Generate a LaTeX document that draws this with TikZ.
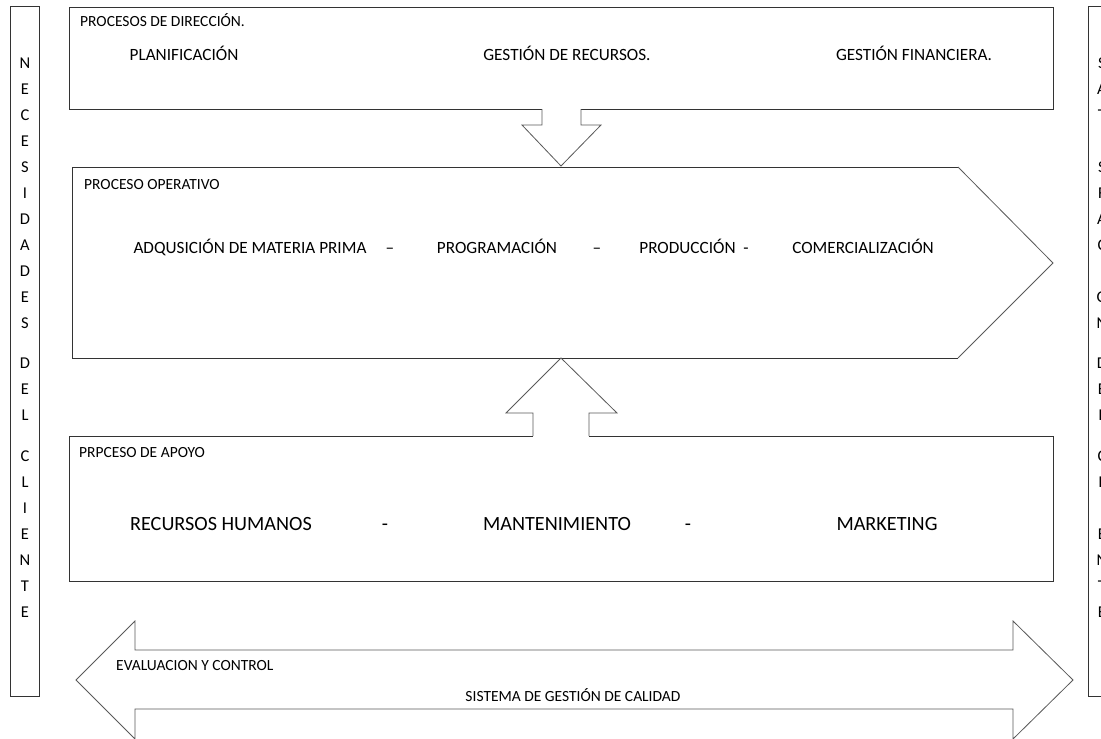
\documentclass[tikz,border=0pt]{standalone}
\usepackage{fontspec}
\setmainfont{Carlito}

\begin{document}
\begin{tikzpicture}[
		x=1pt, y=-1pt,
		box/.style={draw=black!80, line width=0.9pt},
		blockarrow/.style={draw=black!65, line width=0.8pt, fill=white, line join=miter},
		lbl/.style={inner sep=0pt, anchor=base west, font=\fontsize{15.5}{18}\selectfont},
		item/.style={inner sep=0pt, anchor=base, font=\fontsize{17.2}{20}\selectfont},
		bigitem/.style={inner sep=0pt, anchor=base, font=\fontsize{20.2}{24}\selectfont},
		letter/.style={inner sep=0pt, anchor=base, font=\fontsize{16.5}{20}\selectfont}
	]
	\clip (0,0) rectangle (1101,739);
	\fill[white] (0,0) rectangle (1101,739);

	% columnas laterales
	\draw[box] (10,6) rectangle (39,696);
	\draw[box] (1088,6) rectangle (1117,696);
	\foreach \ch/\yy [count=\i] in {N/68,E/94,C/120,E/146,S/172,I/198,D/224,A/250,D/276,E/302,S/328,
			D/368,E/394,L/420,C/461,L/487,I/513,E/539,N/565,T/591,E/617}
		\node[letter] (nec\i) at (25,\yy) {\ch};
	\foreach \ch/\yy [count=\i] in {S/68,A/94,T/120,I/146,S/172,F/198,A/224,C/250,I/276,O/302,N/328,
			D/368,E/394,L/420,C/461,L/487,I/513,E/539,N/565,T/591,E/617}
		\node[letter] (sat\i) at (1102,\yy) {\ch};

	% procesos de direccion
	\draw[box] (69,7) rectangle (1053,109);
	\node[lbl] (dir) at (80,26) {PROCESOS DE DIRECCIÓN.};
	\node[item] (plan) at (184,60) {PLANIFICACIÓN};
	\node[item] (recursos) at (567,60) {GESTIÓN DE RECURSOS.};
	\node[item] (finan) at (914,60) {GESTIÓN FINANCIERA.};

	% proceso operativo
	\draw[box] (958,167) -- (72,167) -- (72,358) -- (958,358);
	\draw[blockarrow, fill=none] (958,167) -- (1053,263) -- (958,358);
	\node[lbl] (oper) at (84,189) {PROCESO OPERATIVO};
	\node[item] (adq) at (250,253) {ADQUSICIÓN DE MATERIA PRIMA};
	\node[item] (g1) at (390,253) {--};
	\node[item] (prog) at (497,253) {PROGRAMACIÓN};
	\node[item] (g2) at (597,253) {--};
	\node[item] (prod) at (694,253) {PRODUCCIÓN \ -};
	\node[item] (comer) at (863,253) {COMERCIALIZACIÓN};

	% flecha hacia abajo
	\fill[white] (542,105) rectangle (581,126);
	\draw[blockarrow, fill=none] (542,109) -- (542,125) -- (522,125) -- (561,166)
		-- (601,125) -- (581,125) -- (581,109);

	% proceso de apoyo
	\draw[box] (69,436) rectangle (1053,581);
	\node[lbl] (apoyo) at (79,457) {PRPCESO DE APOYO};
	\node[bigitem] (rrhh) at (221,530) {RECURSOS HUMANOS};
	\node[bigitem] (g3) at (385,530) {-};
	\node[bigitem] (mant) at (557,530) {MANTENIMIENTO};
	\node[bigitem] (g4) at (688,530) {-};
	\node[bigitem] (mark) at (887,530) {MARKETING};

	% flecha hacia arriba
	\fill[white] (533,412) rectangle (589,440);
	\draw[blockarrow, fill=none] (533,436) -- (533,413) -- (506,413) -- (561,358)
		-- (617,413) -- (589,413) -- (589,436);

	% evaluacion y control
	\draw[blockarrow] (76,680) -- (135,621) -- (135,650) -- (1013,650) -- (1013,621)
		-- (1073,680) -- (1013,739) -- (1013,709) -- (135,709) -- (135,739) -- cycle;
	\node[lbl] (eval) at (116,670) {EVALUACION Y CONTROL};
	\node[lbl, anchor=base] (sgc) at (573,701) {SISTEMA DE GESTIÓN DE CALIDAD};
\end{tikzpicture}
\end{document}
